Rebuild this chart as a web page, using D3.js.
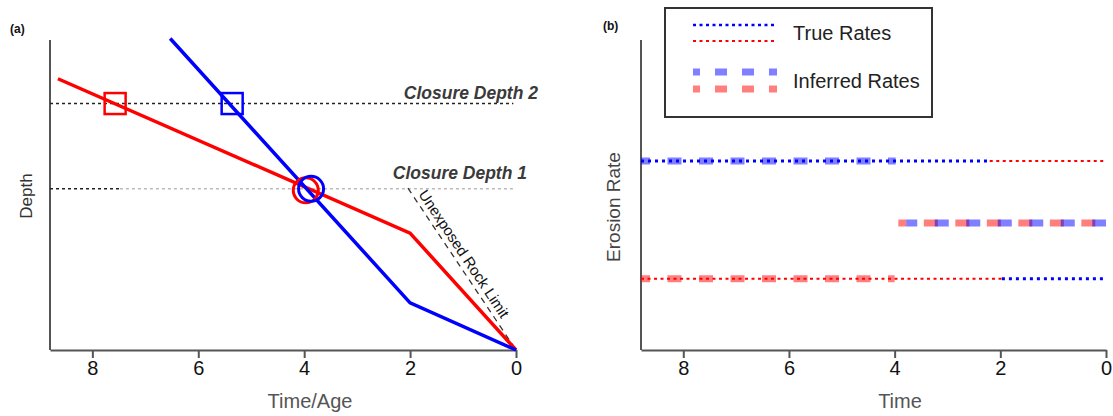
<!DOCTYPE html>
<html>
<head>
<meta charset="utf-8">
<script src="https://cdn.jsdelivr.net/npm/d3@7"></script>
<style>
  body { margin: 0; background: #fff; }
  svg { display: block; font-family: "Liberation Sans", Arial, sans-serif; }
  .axis path, .axis line { stroke: #555; }
  .axis text { fill: #111; font-size: 20px; font-family: "Liberation Sans", Arial, sans-serif; }
</style>
</head>
<body>
<div id="chart"></div>
<script>
var width = 1113, height = 416;

// panel (a) data: time (Ma) vs depth (arbitrary units)
var timeTicks = [8, 6, 4, 2, 0];
var redPath = [[8.65, 8.75], [2.0, 3.77], [0, 0]];
var bluePath = [[6.53, 10.05], [2.0, 1.52], [0, 0]];
var closureDepths = [
    {name: 'Closure Depth 1', depth: 5.2},
    {name: 'Closure Depth 2', depth: 7.95}
];
var closureSegments = [
    {depth: 7.95, from: 8.8, to: 0.05, color: '#222'},
    {depth: 5.2, from: 8.8, to: 7.48, color: '#222'},
    {depth: 5.2, from: 7.48, to: 0.0, color: '#bbb'}
];
var squares = [
    {t: 7.57, d: 7.95, color: 'red'},
    {t: 5.36, d: 7.95, color: 'blue'}
];
var circles = [
    {t: 3.97, d: 5.15, color: 'red'},
    {t: 3.87, d: 5.2, color: 'blue'}
];
var rockLimit = [[2.04, 5.22], [0, 0]];

// panel (b) data: erosion rates over time
var trueRates = [
    {color: 'blue', from: 8.8, to: 2.2, rate: 6.1},
    {color: 'red', from: 2.2, to: 0, rate: 6.1},
    {color: 'red', from: 8.8, to: 1.97, rate: 2.3},
    {color: 'blue', from: 1.97, to: 0, rate: 2.3}
];
var inferredRates = [
    {color: 'blue', from: 8.8, to: 3.98, rate: 6.1, first: 9},
    {color: 'red', from: 8.8, to: 4.0, rate: 2.3, first: 9},
    {color: 'red', from: 3.93, to: 0, rate: 4.1, first: 8},
    {color: 'blue', from: 3.78, to: 0, rate: 4.1, first: 11}
];

var svg = d3.select('#chart').append('svg')
    .attr('width', width)
    .attr('height', height);

var yTop = 40, yBottom = 350;

// ---------- panel (a) ----------
var xL = d3.scaleLinear().domain([8.8, 0]).range([50, 516]);
var yL = d3.scaleLinear().domain([0, 10]).range([yBottom, yTop]);

var gA = svg.append('g');

gA.append('line')
    .attr('x1', xL(8.8)).attr('x2', xL(8.8))
    .attr('y1', yTop).attr('y2', yBottom)
    .attr('stroke', '#555').attr('stroke-width', 2);

gA.append('g')
    .attr('class', 'axis')
    .attr('transform', 'translate(0,' + yBottom + ')')
    .call(d3.axisBottom(xL).tickValues(timeTicks).tickSize(8).tickPadding(3).tickSizeOuter(0))
    .call(function (g) {
        g.select('.domain').attr('stroke-width', 2);
        g.selectAll('.tick line').attr('stroke-width', 2);
    });

gA.selectAll('.cdline')
    .data(closureSegments)
    .enter().append('line')
    .attr('class', 'cdline')
    .attr('x1', function (s) { return xL(s.from); })
    .attr('x2', function (s) { return xL(s.to); })
    .attr('y1', function (s) { return yL(s.depth); })
    .attr('y2', function (s) { return yL(s.depth); })
    .attr('stroke', function (s) { return s.color; })
    .attr('stroke-width', 1.5)
    .attr('stroke-dasharray', '3,3');

gA.selectAll('.cdlabel')
    .data(closureDepths)
    .enter().append('text')
    .attr('class', 'cdlabel')
    .attr('x', function (c, i) { return xL(0) + (i === 0 ? 11 : 22); })
    .attr('y', function (c, i) { return yL(c.depth) - (i === 0 ? 10 : 5); })
    .attr('text-anchor', 'end')
    .attr('font-size', 17.5)
    .attr('font-style', 'italic')
    .attr('font-weight', 'bold')
    .attr('fill', '#3a3a3a')
    .text(function (c) { return c.name; });

// unexposed rock limit
var p0 = [xL(rockLimit[0][0]), yL(rockLimit[0][1])],
    p1 = [xL(rockLimit[1][0]), yL(rockLimit[1][1])];
gA.append('line')
    .attr('x1', p0[0]).attr('y1', p0[1])
    .attr('x2', p1[0]).attr('y2', p1[1])
    .attr('stroke', '#333')
    .attr('stroke-width', 1.3)
    .attr('stroke-dasharray', '6,5');
var dx = p1[0] - p0[0], dy = p1[1] - p0[1], len = Math.sqrt(dx * dx + dy * dy);
var ang = Math.atan2(dy, dx) * 180 / Math.PI;
var tx = p0[0] + dx * 0.055 + dy / len * 5,
    ty = p0[1] + dy * 0.055 - dx / len * 5;
gA.append('text')
    .attr('transform', 'translate(' + tx + ',' + ty + ') rotate(' + ang + ')')
    .attr('font-size', 15)
    .attr('fill', '#111')
    .text('Unexposed Rock Limit');

var line = d3.line()
    .x(function (d) { return xL(d[0]); })
    .y(function (d) { return yL(d[1]); });

gA.append('path')
    .datum(redPath)
    .attr('d', line)
    .attr('fill', 'none')
    .attr('stroke', 'red')
    .attr('stroke-width', 3.5);
gA.append('path')
    .datum(bluePath)
    .attr('d', line)
    .attr('fill', 'none')
    .attr('stroke', 'blue')
    .attr('stroke-width', 3.5);

var sq = 21;
gA.selectAll('.sq')
    .data(squares)
    .enter().append('rect')
    .attr('class', 'sq')
    .attr('x', function (s) { return xL(s.t) - sq / 2; })
    .attr('y', function (s) { return yL(s.d) - sq / 2; })
    .attr('width', sq).attr('height', sq)
    .attr('fill', 'none')
    .attr('stroke', function (s) { return s.color; })
    .attr('stroke-width', 2.5);

gA.selectAll('.circ')
    .data(circles)
    .enter().append('circle')
    .attr('class', 'circ')
    .attr('cx', function (c) { return xL(c.t); })
    .attr('cy', function (c) { return yL(c.d); })
    .attr('r', 12.5)
    .attr('fill', 'none')
    .attr('stroke', function (c) { return c.color; })
    .attr('stroke-width', 3);

gA.append('text')
    .attr('x', 10).attr('y', 33)
    .attr('font-size', 12)
    .attr('font-weight', 'bold')
    .attr('fill', '#111')
    .text('(a)');

gA.append('text')
    .attr('transform', 'translate(32,' + 196 + ') rotate(-90)')
    .attr('text-anchor', 'middle')
    .attr('font-size', 17)
    .attr('fill', '#333')
    .text('Depth');

gA.append('text')
    .attr('x', 310).attr('y', 408)
    .attr('text-anchor', 'middle')
    .attr('font-size', 20)
    .attr('fill', '#555')
    .text('Time/Age');

// ---------- panel (b) ----------
var xR = d3.scaleLinear().domain([8.8, 0]).range([641, 1106]);
var yR = d3.scaleLinear().domain([0, 10]).range([yBottom, yTop]);

var gB = svg.append('g');

gB.append('line')
    .attr('x1', xR(8.8)).attr('x2', xR(8.8))
    .attr('y1', yTop).attr('y2', yBottom)
    .attr('stroke', '#555').attr('stroke-width', 2);

gB.append('g')
    .attr('class', 'axis')
    .attr('transform', 'translate(0,' + yBottom + ')')
    .call(d3.axisBottom(xR).tickValues(timeTicks).tickSize(8).tickPadding(3).tickSizeOuter(0))
    .call(function (g) {
        g.select('.domain').attr('stroke-width', 2);
        g.selectAll('.tick line').attr('stroke-width', 2);
    });

var inferredDash = [14, 17.5];
gB.selectAll('.inferred')
    .data(inferredRates)
    .enter().append('line')
    .attr('class', 'inferred')
    .attr('x1', function (r) { return xR(r.from); })
    .attr('x2', function (r) { return xR(r.to); })
    .attr('y1', function (r) { return yR(r.rate); })
    .attr('y2', function (r) { return yR(r.rate); })
    .attr('stroke', function (r) { return r.color; })
    .attr('stroke-opacity', 0.5)
    .attr('stroke-width', 7)
    .attr('stroke-dasharray', inferredDash.join(','))
    .attr('stroke-dashoffset', function (r) { return inferredDash[0] - r.first; });

gB.selectAll('.truerate')
    .data(trueRates)
    .enter().append('line')
    .attr('class', 'truerate')
    .attr('x1', function (r) { return xR(r.from); })
    .attr('x2', function (r) { return xR(r.to); })
    .attr('y1', function (r) { return yR(r.rate); })
    .attr('y2', function (r) { return yR(r.rate); })
    .attr('stroke', function (r) { return r.color; })
    .attr('stroke-width', function (r) { return r.color === 'blue' ? 3 : 2; })
    .attr('stroke-dasharray', function (r) { return r.color === 'blue' ? '3,4' : '3,3.5'; });

// legend
var legend = gB.append('g');
legend.append('rect')
    .attr('x', 665).attr('y', 8)
    .attr('width', 267).attr('height', 109)
    .attr('fill', 'none')
    .attr('stroke', '#333')
    .attr('stroke-width', 2);

var legendItems = [
    {kind: 'true', color: 'blue', y: 25},
    {kind: 'true', color: 'red', y: 41},
    {kind: 'inferred', color: 'blue', y: 72},
    {kind: 'inferred', color: 'red', y: 89}
];
legend.selectAll('.lg')
    .data(legendItems)
    .enter().append('line')
    .attr('class', 'lg')
    .attr('x1', 693).attr('x2', 777)
    .attr('y1', function (l) { return l.y; })
    .attr('y2', function (l) { return l.y; })
    .attr('stroke', function (l) { return l.color; })
    .attr('stroke-opacity', function (l) { return l.kind === 'true' ? 1 : 0.5; })
    .attr('stroke-width', function (l) { return l.kind === 'inferred' ? 7 : (l.color === 'blue' ? 2.5 : 2); })
    .attr('stroke-dasharray', function (l) { return l.kind === 'true' ? '3,3.5' : '12,15'; })
    .attr('stroke-dashoffset', function (l) { return l.kind === 'true' ? 0 : 5; });

legend.selectAll('.lgtext')
    .data(['True Rates', 'Inferred Rates'])
    .enter().append('text')
    .attr('class', 'lgtext')
    .attr('x', 793)
    .attr('y', function (d, i) { return i === 0 ? 40 : 88; })
    .attr('font-size', 20)
    .attr('fill', '#222')
    .text(function (d) { return d; });

gB.append('text')
    .attr('x', 603).attr('y', 30)
    .attr('font-size', 12)
    .attr('font-weight', 'bold')
    .attr('fill', '#111')
    .text('(b)');

gB.append('text')
    .attr('transform', 'translate(620,' + 207 + ') rotate(-90)')
    .attr('text-anchor', 'middle')
    .attr('font-size', 19)
    .attr('fill', '#444')
    .text('Erosion Rate');

gB.append('text')
    .attr('x', 900).attr('y', 408)
    .attr('text-anchor', 'middle')
    .attr('font-size', 20)
    .attr('fill', '#555')
    .text('Time');
</script>
</body>
</html>
